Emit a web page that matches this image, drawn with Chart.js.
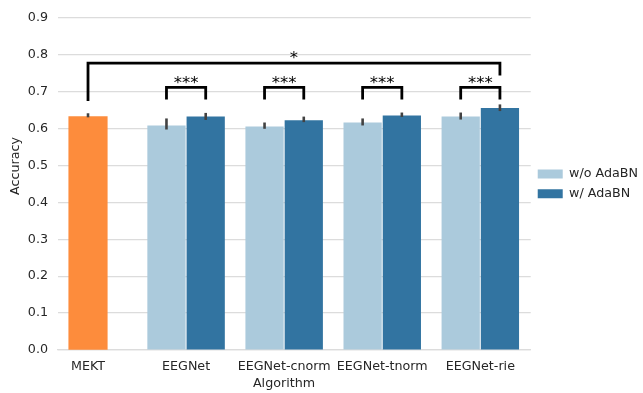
<!DOCTYPE html>
<html>
<head>
<meta charset="utf-8">
<script src="https://cdn.jsdelivr.net/npm/chart.js@4.4.0/dist/chart.umd.min.js"></script>
<style>
  html, body { margin: 0; padding: 0; background: #fff; }
  #wrap { width: 643px; height: 393px; }
</style>
</head>
<body>
<div id="wrap"><canvas id="accChart" width="643" height="393"></canvas></div>
<script>
// data
const categories = ["MEKT", "EEGNet", "EEGNet-cnorm", "EEGNet-tnorm", "EEGNet-rie"];
const yTicks = [0, 0.1, 0.2, 0.3, 0.4, 0.5, 0.6, 0.7, 0.8, 0.9];

const mekt    = [0.632, null, null, null, null];
const mektLo  = [0.630, null, null, null, null];
const mektHi  = [0.641, null, null, null, null];

const withoutBN   = [null, 0.608, 0.605, 0.616, 0.632];
const withoutLo   = [null, 0.597, 0.599, 0.608, 0.624];
const withoutHi   = [null, 0.627, 0.616, 0.627, 0.643];

const withBN  = [null, 0.632, 0.622, 0.635, 0.655];
const withLo  = [null, 0.623, 0.617, 0.631, 0.647];
const withHi  = [null, 0.642, 0.632, 0.643, 0.665];

// significance brackets (w/o vs w/ for each EEGNet variant)
const pairCats  = [1, 2, 3, 4];
const pairLow   = [0.678, 0.678, 0.678, 0.678];
const pairTop   = [0.711, 0.711, 0.711, 0.711];
const pairMark  = ["***", "***", "***", "***"];
// MEKT vs EEGNet-rie w/
const bigFrom = 0, bigTo = 4.2;
const bigLow  = [0.674, 0.743];
const bigTop  = 0.777;
const bigMark = "*";

const hueOffset = 0.2;
const FONT = "'DejaVu Sans', sans-serif";
const TXT = "#262626";

function pts(arr){ return arr.map((v, i) => ({ x: i, y: v })); }

function bracket(x1, x2, yl, yt, yr){
  return { type: "line", label: "_br", data: [{x:x1,y:yl},{x:x1,y:yt},{x:x2,y:yt},{x:x2,y:yr}],
    borderColor: "#000", borderWidth: 2.8, pointRadius: 0, fill: false, tension: 0,
    borderCapStyle: "butt", borderJoinStyle: "miter" };
}

const datasets = [
  { type: "bar", label: "MEKT", data: pts(mekt), backgroundColor: "#fd8c3c", barThickness: 38.5 },
  { type: "bar", label: "w/o AdaBN", data: pts(withoutBN), backgroundColor: "#abcadc" },
  { type: "bar", label: "w/ AdaBN", data: pts(withBN), backgroundColor: "#3274a1" }
];
pairCats.forEach((c, i) => datasets.push(bracket(c - hueOffset, c + hueOffset, pairLow[i], pairTop[i], pairLow[i])));
datasets.push(bracket(bigFrom, bigTo, bigLow[0], bigTop, bigLow[1]));

const errSets = [[0, mektLo, mektHi], [1, withoutLo, withoutHi], [2, withLo, withHi]];

const overlay = {
  id: "overlay",
  afterDatasetsDraw(chart){
    const { ctx, scales: { x, y } } = chart;
    ctx.save();
    // error bars
    ctx.strokeStyle = "#424242";
    ctx.lineWidth = 2.6;
    errSets.forEach(([d, lo, hi]) => {
      chart.getDatasetMeta(d).data.forEach((bar, i) => {
        if (lo[i] == null) return;
        ctx.beginPath();
        ctx.moveTo(bar.x, y.getPixelForValue(lo[i]));
        ctx.lineTo(bar.x, y.getPixelForValue(hi[i]));
        ctx.stroke();
      });
    });
    // stars
    ctx.fillStyle = "#000";
    ctx.textAlign = "center";
    ctx.textBaseline = "alphabetic";
    ctx.font = "16.5px " + FONT;
    pairCats.forEach((c, i) => ctx.fillText(pairMark[i], x.getPixelForValue(c), y.getPixelForValue(pairTop[i]) + 1));
    ctx.fillText(bigMark, x.getPixelForValue((bigFrom + bigTo) / 2), y.getPixelForValue(bigTop) - 0.5);
    ctx.restore();
  },
  afterDraw(chart){
    const ctx = chart.ctx;
    ctx.save();
    ctx.fillStyle = TXT;
    ctx.font = "12.7px " + FONT;
    ctx.textAlign = "center";
    ctx.textBaseline = "alphabetic";
    ctx.fillText("Algorithm", 284, 387);
    ctx.translate(19, 166);
    ctx.rotate(-Math.PI / 2);
    ctx.fillText("Accuracy", 0, 0);
    ctx.restore();
  }
};

new Chart(document.getElementById("accChart"), {
  data: { datasets },
  plugins: [overlay],
  options: {
    responsive: false,
    animation: false,
    layout: { padding: { top: 17, right: -5, bottom: 0, left: 0 } },
    datasets: { bar: { skipNull: true, categoryPercentage: 0.8, barPercentage: 0.975 } },
    plugins: {
      tooltip: { enabled: false },
      legend: {
        position: "right",
        fullSize: false,
        labels: {
          filter: item => item.text === "w/o AdaBN" || item.text === "w/ AdaBN",
          boxWidth: 25, boxHeight: 9, padding: 7,
          color: TXT, font: { family: FONT, size: 12.7 }
        }
      }
    },
    scales: {
      x: {
        type: "linear", offset: false,
        min: -0.306, max: 4.514,
        grid: { display: false, drawTicks: false },
        border: { display: true, color: "#dcdcdc", width: 1.2 },
        afterBuildTicks: s => { s.ticks = categories.map((_, i) => ({ value: i })); },
        ticks: { autoSkip: false, maxRotation: 0, padding: 9, color: TXT,
                 font: { family: FONT, size: 12.7 }, callback: v => categories[v] },
        afterFit: s => { s.height = 43; }
      },
      y: {
        min: 0, max: 0.9,
        grid: { color: "#dcdcdc", lineWidth: 1.2, drawTicks: false },
        border: { display: false },
        afterBuildTicks: s => { s.ticks = yTicks.map(v => ({ value: v })); },
        ticks: { padding: 10, color: TXT, font: { family: FONT, size: 12.7 },
                 callback: v => v.toFixed(1) },
        afterFit: s => { s.height; s.width = 58; }
      }
    }
  }
});
</script>
</body>
</html>
